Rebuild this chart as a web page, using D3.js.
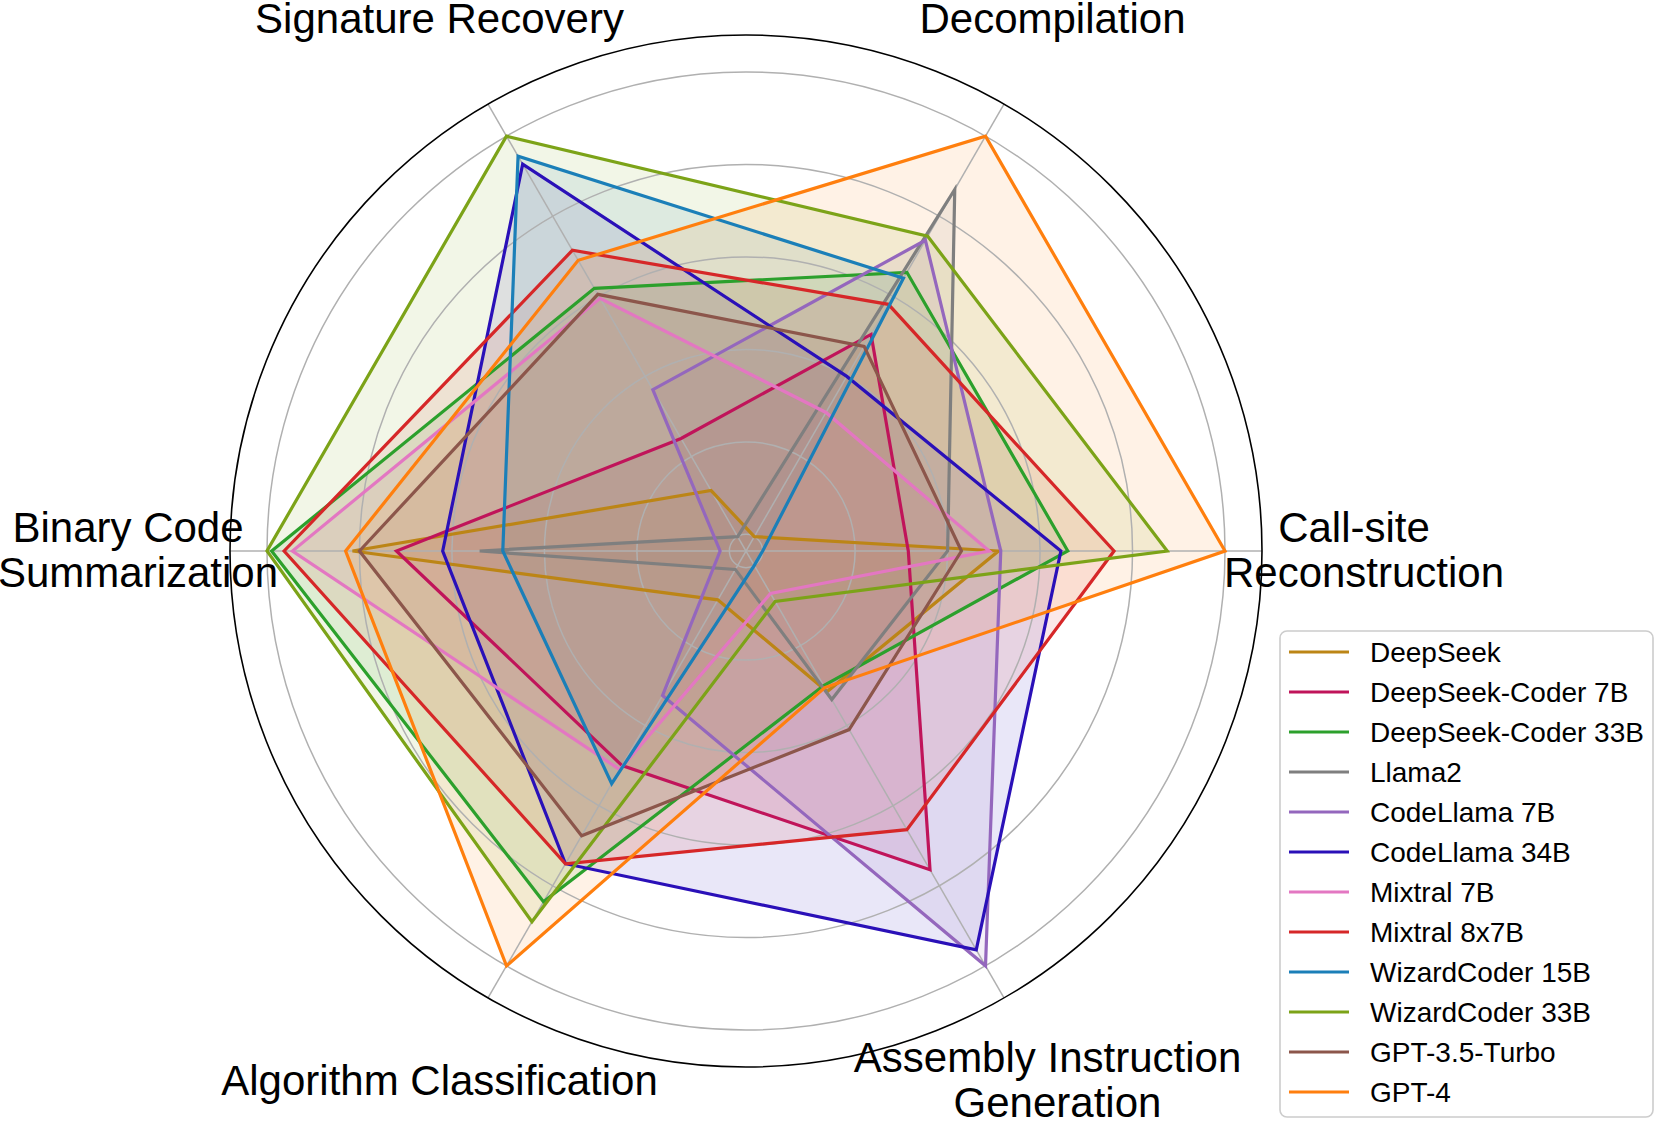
<!DOCTYPE html>
<html>
<head>
<meta charset="utf-8">
<script src="https://cdn.jsdelivr.net/npm/d3@7"></script>
<style>
body { margin: 0; background: #fff; }
text { font-family: "Liberation Sans", Arial, Helvetica, sans-serif; fill: #000; }
</style>
</head>
<body>
<script>
// axes, counter-clockwise from the right
var categories = ['Call-site\nReconstruction', 'Decompilation', 'Signature Recovery',
	'Binary Code\nSummarization', 'Algorithm Classification', 'Assembly Instruction\nGeneration']

var models = ['DeepSeek', 'DeepSeek-Coder 7B', 'DeepSeek-Coder 33B', 'Llama2', 'CodeLlama 7B',
	'CodeLlama 34B', 'Mixtral 7B', 'Mixtral 8x7B', 'WizardCoder 15B', 'WizardCoder 33B',
	'GPT-3.5-Turbo', 'GPT-4']

var colors = ['#bc8516', '#c0145a', '#2ca02c', '#7f7f7f', '#9467bd', '#2a10b8',
	'#e377c2', '#d62728', '#1b7fb8', '#7ca318', '#8c564b', '#ff7f0e']

// scores per axis, same order as categories
var deepseek      = [0.51, 0.0, 0.115, 0.815, 0.086, 0.315]
var dsCoder7b     = [0.315, 0.505, 0.245, 0.72, 0.50, 0.76]
var dsCoder33b    = [0.66, 0.66, 0.62, 0.99, 0.84, 0.30]
var llama2        = [0.40, 0.867, 0.0, 0.54, 0.01, 0.335]
var codeLlama7b   = [0.515, 0.74, 0.367, 0.02, 0.325, 1.0]
var codeLlama34b  = [0.645, 0.40, 0.93, 0.62, 0.745, 0.96]
var mixtral7b     = [0.49, 0.31, 0.595, 0.945, 0.51, 0.07]
var mixtral8x7b   = [0.76, 0.58, 0.715, 0.963, 0.745, 0.66]
var wizard15b     = [0.0, 0.645, 0.95, 0.49, 0.545, 0.0]
var wizard33b     = [0.875, 0.75, 1.0, 1.0, 0.89, 0.09]
var gpt35         = [0.43, 0.475, 0.605, 0.80, 0.675, 0.41]
var gpt4          = [1.0, 1.0, 0.69, 0.83, 1.0, 0.305]

var series = [deepseek, dsCoder7b, dsCoder33b, llama2, codeLlama7b, codeLlama34b,
	mixtral7b, mixtral8x7b, wizard15b, wizard33b, gpt35, gpt4]

var rTicks = [0, 0.2, 0.4, 0.6, 0.8, 1.0]

var body = d3.select('body')
var svg = body.append('svg')
	.attr('width', 1660)
	.attr('height', 1125)

var cx = 746, cy = 551, frameR = 516

var r = d3.scaleLinear().domain([-0.036, 1.08]).range([0, frameR])

// angle for d3 radial generators (0 = up, clockwise)
function ang(i) {
	return Math.PI / 2 - i * 2 * Math.PI / categories.length
}

var chart = svg.append('g')
	.attr('transform', 'translate(' + cx + ',' + cy + ')')

//fills first, lines on top
var radial = d3.lineRadial()
	.angle(function(d, i) { return ang(i) })
	.radius(function(d) { return r(d) })
	.curve(d3.curveLinearClosed)

chart.selectAll('.fill')
	.data(series)
	.enter().append('path')
	.attr('class', 'fill')
	.attr('d', radial)
	.attr('fill', function(d, i) { return colors[i] })
	.attr('fill-opacity', 0.1)
	.attr('stroke', 'none')

//grid circles
chart.selectAll('.ring')
	.data(rTicks)
	.enter().append('circle')
	.attr('class', 'ring')
	.attr('r', function(d) { return r(d) })
	.attr('fill', 'none')
	.attr('stroke', '#b0b0b0')
	.attr('stroke-width', 1.5)

//spokes
chart.selectAll('.spoke')
	.data(categories)
	.enter().append('line')
	.attr('class', 'spoke')
	.attr('x1', 0).attr('y1', 0)
	.attr('x2', function(d, i) { return frameR * Math.sin(ang(i)) })
	.attr('y2', function(d, i) { return -frameR * Math.cos(ang(i)) })
	.attr('stroke', '#b0b0b0')
	.attr('stroke-width', 1.5)

chart.selectAll('.line')
	.data(series)
	.enter().append('path')
	.attr('class', 'line')
	.attr('d', radial)
	.attr('fill', 'none')
	.attr('stroke', function(d, i) { return colors[i] })
	.attr('stroke-width', 3.2)
	.attr('stroke-linejoin', 'miter')

//frame
chart.append('circle')
	.attr('r', frameR)
	.attr('fill', 'none')
	.attr('stroke', 'black')
	.attr('stroke-width', 1.6)

//axis labels
var labelR = 613
var labels = chart.selectAll('.lab')
	.data(categories)
	.enter().append('text')
	.attr('class', 'lab')
	.attr('font-size', 42)
	.attr('text-anchor', 'middle')
	.attr('transform', function(d, i) {
		return 'translate(' + (labelR * Math.sin(ang(i))) + ',' + (-labelR * Math.cos(ang(i))) + ')'
	})

labels.each(function(d) {
	var lines = d.split('\n')
	var t = d3.select(this)
	lines.forEach(function(s, k) {
		t.append('tspan')
			.attr('x', lines.length > 1 ? (k == 0 ? -5 : 5) : 0)
			.attr('y', (k - (lines.length - 1) / 2) * 45 + 13)
			.text(s)
	})
})

//legend
var legend = svg.append('g')
	.attr('transform', 'translate(1280,631)')

legend.append('rect')
	.attr('width', 373)
	.attr('height', 486)
	.attr('rx', 7)
	.attr('fill', 'white')
	.attr('fill-opacity', 0.8)
	.attr('stroke', '#cccccc')
	.attr('stroke-width', 1.6)

var items = legend.selectAll('.item')
	.data(models)
	.enter().append('g')
	.attr('class', 'item')
	.attr('transform', function(d, i) { return 'translate(0,' + (21 + i * 40) + ')' })

items.append('line')
	.attr('x1', 9).attr('x2', 69)
	.attr('stroke', function(d, i) { return colors[i] })
	.attr('stroke-width', 3.2)

items.append('text')
	.attr('x', 90)
	.attr('y', 10)
	.attr('font-size', 28)
	.text(function(d) { return d })
</script>
</body>
</html>
